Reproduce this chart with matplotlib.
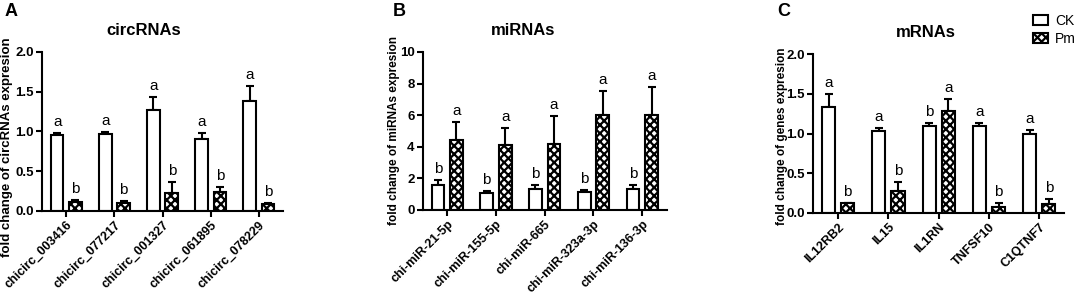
import numpy as np
import matplotlib.pyplot as plt
from matplotlib.patches import Patch

plt.rcParams['font.family'] = ['Liberation Sans', 'DejaVu Sans']
plt.rcParams['hatch.linewidth'] = 1.6

# panel A
circ_names = ['chicirc_003416', 'chicirc_077217', 'chicirc_001327', 'chicirc_061895', 'chicirc_078229']
circ_ck = [0.96, 0.97, 1.27, 0.90, 1.38]
circ_ck_err = [0.02, 0.02, 0.16, 0.08, 0.19]
circ_pm = [0.11, 0.10, 0.22, 0.24, 0.09]
circ_pm_err = [0.03, 0.02, 0.14, 0.06, 0.01]
circ_ck_lab = ['a', 'a', 'a', 'a', 'a']
circ_pm_lab = ['b', 'b', 'b', 'b', 'b']

# panel B
mi_names = ['chi-miR-21-5p', 'chi-miR-155-5p', 'chi-miR-665', 'chi-miR-323a-3p', 'chi-miR-136-3p']
mi_ck = [1.59, 1.10, 1.35, 1.16, 1.35]
mi_ck_err = [0.31, 0.10, 0.24, 0.13, 0.21]
mi_pm = [4.44, 4.12, 4.19, 5.98, 6.03]
mi_pm_err = [1.10, 1.04, 1.75, 1.57, 1.75]
mi_ck_lab = ['b', 'b', 'b', 'b', 'b']
mi_pm_lab = ['a', 'a', 'a', 'a', 'a']

# panel C
m_names = ['IL12RB2', 'IL15', 'IL1RN', 'TNFSF10', 'C1QTNF7']
m_ck = [1.33, 1.03, 1.09, 1.09, 1.00]
m_ck_err = [0.17, 0.04, 0.04, 0.04, 0.05]
m_pm = [0.12, 0.27, 1.28, 0.08, 0.11]
m_pm_err = [0.01, 0.12, 0.16, 0.04, 0.07]
m_ck_lab = ['a', 'a', 'b', 'a', 'a']
m_pm_lab = ['b', 'b', 'a', 'b', 'b']

fig = plt.figure(figsize=(10.84, 2.97), dpi=100)

def panel(rect, letter, letter_x, title, title_x, ylabel, ylab_pos, ylab_size,
          names, ck, ck_err, pm, pm_err, ck_lab, pm_lab, ymax, step):
    ax = fig.add_axes(rect)
    x = np.arange(len(names)) + 0.5
    w = 0.26
    off = 0.19
    ax.bar(x - off, ck, w, color='white', edgecolor='black', linewidth=1.5, zorder=2)
    ax.bar(x + off, pm, w, color='white', edgecolor='black', linewidth=1.5, hatch='xxxx', zorder=2)
    ax.errorbar(x - off, ck, yerr=[np.zeros(len(ck)), ck_err], fmt='none', ecolor='black',
                elinewidth=1.5, capsize=3, capthick=1.5, zorder=1)
    ax.errorbar(x + off, pm, yerr=[np.zeros(len(pm)), pm_err], fmt='none', ecolor='black',
                elinewidth=1.5, capsize=3, capthick=1.5, zorder=1)
    pad = ymax * 0.025
    for i in range(len(names)):
        ax.text(x[i] - off, ck[i] + ck_err[i] + pad, ck_lab[i], ha='center', va='bottom', fontsize=11)
        ax.text(x[i] + off, pm[i] + pm_err[i] + pad, pm_lab[i], ha='center', va='bottom', fontsize=11)
    ax.set_xlim(0, len(names))
    ax.set_ylim(0, ymax)
    ticks = np.arange(0, ymax + step / 2, step)
    ax.set_yticks(ticks)
    if step < 1:
        ax.set_yticklabels(['%.1f' % v for v in ticks])
    ax.set_xticks(x)
    ax.set_xticklabels(names, rotation=45, ha='right', rotation_mode='anchor', fontsize=9, fontweight='bold')
    for t in ax.get_yticklabels():
        t.set_fontweight('bold')
        t.set_fontsize(9.5)
    ax.spines['top'].set_visible(False)
    ax.spines['right'].set_visible(False)
    ax.spines['left'].set_linewidth(1.5)
    ax.spines['bottom'].set_linewidth(1.5)
    ax.tick_params(width=1.5, length=4, pad=2)
    ax.set_ylabel(ylabel, fontsize=ylab_size, fontweight='bold')
    ax.yaxis.set_label_coords(ylab_pos[0], ylab_pos[1])
    ax.set_title(title, fontsize=12, fontweight='bold', pad=12, x=title_x)
    fig.text(letter_x, 0.945, letter, fontsize=13, fontweight='bold')
    return ax

panel([0.039, 0.290, 0.222, 0.535], 'A', 0.004, 'circRNAs', 0.42,
      'fold change of circRNAs expresion', (-0.12, 0.40), 9.5,
      circ_names, circ_ck, circ_ck_err, circ_pm, circ_pm_err, circ_ck_lab, circ_pm_lab, 2.0, 0.5)
panel([0.390, 0.293, 0.225, 0.532], 'B', 0.362, 'miRNAs', 0.41,
      'fold change of miRNAs expresion', (-0.095, 0.5), 8.5,
      mi_names, mi_ck, mi_ck_err, mi_pm, mi_pm_err, mi_ck_lab, mi_pm_lab, 10, 2)
panel([0.750, 0.283, 0.232, 0.535], 'C', 0.717, 'mRNAs', 0.45,
      'fold change of genes expresion', (-0.10, 0.48), 8.5,
      m_names, m_ck, m_ck_err, m_pm, m_pm_err, m_ck_lab, m_pm_lab, 2.0, 0.5)

handles = [Patch(facecolor='white', edgecolor='black', linewidth=1.5),
           Patch(facecolor='white', edgecolor='black', linewidth=1.5, hatch='xxxx')]
fig.legend(handles, ['CK', 'Pm'], loc='upper right', bbox_to_anchor=(1.004, 0.995), frameon=False,
           fontsize=10, handlelength=1.1, handleheight=0.75, handletextpad=0.5, labelspacing=0.3)

fig.savefig('out.png', dpi=100)
